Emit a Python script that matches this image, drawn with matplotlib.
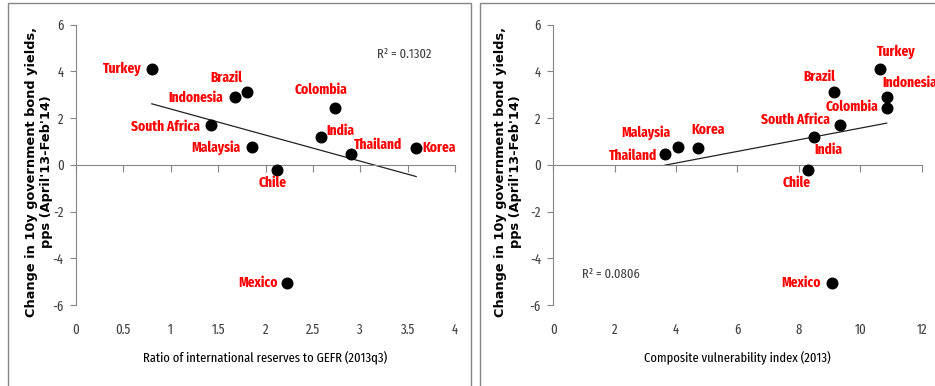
import numpy as np
import matplotlib
matplotlib.use("Agg")
import matplotlib.pyplot as plt
from matplotlib.patches import Rectangle
from matplotlib.ticker import FormatStrFormatter

plt.rcParams["axes.unicode_minus"] = False
plt.rcParams["font.family"] = ["Fira Sans Extra Condensed", "DejaVu Sans"]

countries = ["Turkey", "Brazil", "Indonesia", "South Africa", "Malaysia", "Chile",
             "Colombia", "India", "Thailand", "Korea", "Mexico"]
yield_change = [4.10, 3.10, 2.90, 1.70, 0.77, -0.23, 2.41, 1.17, 0.46, 0.71, -5.05]
reserves_ratio = [0.80, 1.80, 1.68, 1.42, 1.86, 2.12, 2.73, 2.59, 2.90, 3.59, 2.23]
vuln_index = [10.64, 9.15, 10.86, 9.34, 4.06, 8.31, 10.86, 8.48, 3.64, 4.71, 9.09]

# label placement (pixel offsets from dot, horizontal alignment)
left_labels = {
    "Turkey": (-10, 0, "right"), "Brazil": (-20, 14, "center"),
    "Indonesia": (-12, -1, "right"), "South Africa": (-11, -2, "right"),
    "Malaysia": (-12, -1, "right"), "Chile": (-4, -13, "center"),
    "Colombia": (-14, 19, "center"), "India": (5, 7, "left"),
    "Thailand": (3, 9, "left"), "Korea": (6, 0, "left"), "Mexico": (-10, 0, "right"),
}
right_labels = {
    "Turkey": (16, 17, "center"), "Brazil": (-15, 15, "center"),
    "Indonesia": (-4, 14, "left"), "South Africa": (-10, 5, "right"),
    "Malaysia": (-8, 14, "right"), "Chile": (-12, -13, "center"),
    "Colombia": (-8, 2, "right"), "India": (15, -12, "center"),
    "Thailand": (-8, -2, "right"), "Korea": (10, 18, "center"), "Mexico": (-12, 0, "right"),
}

ylabel = "Change in 10y government bond yields,\npps (April'13-Feb'14)"
grey = "#868686"
txt = "#404040"

fig = plt.figure(figsize=(9.35, 3.86), dpi=100)

# panel frames
fig.add_artist(Rectangle((8 / 935, -0.1), 463 / 935, 1.092, transform=fig.transFigure,
                         fill=False, edgecolor=grey, lw=1))
fig.add_artist(Rectangle((480 / 935, -0.1), 0.6, 1.092, transform=fig.transFigure,
                         fill=False, edgecolor=grey, lw=1))


def panel(rect, xs, xmax, xstep, xlabel, labels, r2_text, r2_pos, ylab_x):
    ax = fig.add_axes(rect)
    ax.set_xlim(0, xmax)
    ax.set_ylim(-6, 6)
    xticks = np.arange(0, xmax + xstep / 2, xstep)
    ax.set_xticks(xticks)
    ax.set_yticks(range(-6, 7, 2))
    for s in ["top", "right"]:
        ax.spines[s].set_visible(False)
    ax.spines["bottom"].set_position(("data", 0))
    ax.spines["bottom"].set_color(grey)
    ax.spines["left"].set_color(grey)
    ax.tick_params(axis="x", direction="out", length=5, color=grey, labelbottom=False)
    ax.tick_params(axis="y", direction="out", length=4, color=grey, labelsize=10,
                   labelcolor=txt, pad=5)
    sec = ax.secondary_xaxis("bottom")
    sec.set_xticks(xticks)
    sec.xaxis.set_major_formatter(FormatStrFormatter("%g"))
    sec.spines["bottom"].set_visible(False)
    sec.tick_params(length=0, pad=13, labelsize=10, labelcolor=txt)
    sec.set_xlabel(xlabel, fontsize=9.8, color="black", labelpad=10)
    ax.set_ylabel(ylabel, family="DejaVu Sans", fontweight="bold", fontsize=9.3,
                  linespacing=1.2)
    ax.yaxis.set_label_coords(ylab_x, 0.476)

    k, b = np.polyfit(xs, yield_change, 1)
    xl = np.array([min(xs), max(xs)])
    ax.plot(xl, k * xl + b, color="#222222", lw=0.9, zorder=2)
    ax.scatter(xs, yield_change, s=58, color="black", zorder=3)
    for name, x, y in zip(countries, xs, yield_change):
        dx, dy, ha = labels[name]
        ax.annotate(name, (x, y), xytext=(dx, dy), textcoords="offset pixels",
                    ha=ha, va="center", color="#ff0000", fontweight="bold",
                    fontsize=10.5, annotation_clip=False)
    ax.text(r2_pos[0], r2_pos[1], r2_text, transform=ax.transAxes, fontsize=9.8,
            color=txt, ha="center", va="center")
    return ax


panel([76 / 935, 1 - 305 / 386, 379 / 935, 280.5 / 386], reserves_ratio, 4, 0.5,
      "Ratio of international reserves to GEFR (2013q3)", left_labels,
      "R² = 0.1302", (0.867, 0.895), -0.062)
panel([553.3 / 935, 1 - 305 / 386, 368.4 / 935, 280.5 / 386], vuln_index, 12, 2,
      "Composite vulnerability index (2013)", right_labels,
      "R² = 0.0806", (0.155, 0.11), -0.084)

fig.savefig("out.png", dpi=100)
